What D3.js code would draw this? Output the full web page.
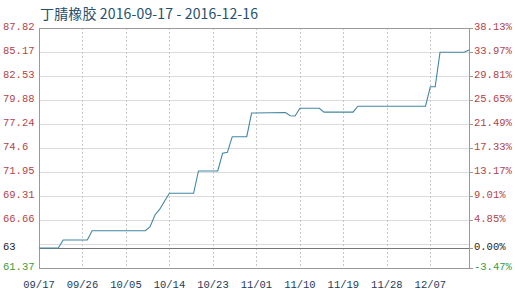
<!DOCTYPE html>
<html>
<head>
<meta charset="utf-8">
<script src="https://cdn.jsdelivr.net/npm/d3@7"></script>
<style>
  html, body { margin: 0; padding: 0; background: #fff; }
  svg { display: block; }
</style>
</head>
<body>
<svg id="chart" width="515" height="295"></svg>
<script>
// ---- data ----
const dates = ["2016-09-17","2016-09-21","2016-09-22","2016-09-27","2016-09-28","2016-10-09","2016-10-10","2016-10-11","2016-10-12","2016-10-13","2016-10-14","2016-10-19","2016-10-20","2016-10-24","2016-10-25","2016-10-26","2016-10-27","2016-10-30","2016-10-31","2016-11-07","2016-11-08","2016-11-09","2016-11-10","2016-11-14","2016-11-15","2016-11-21","2016-11-22","2016-12-06","2016-12-07","2016-12-08","2016-12-09","2016-12-14","2016-12-15"];
const prices = [63.58,63.58,64.46,64.46,65.48,65.48,65.92,67.21,67.85,68.75,69.6,69.6,72.06,72.06,74.01,74.12,75.84,75.84,78.45,78.5,78.15,78.12,78.97,78.97,78.55,78.55,79.2,79.2,81.35,81.35,85.14,85.14,85.4];

const baseValue = 63.58;
const baseLabel = "63";
const basePctLabel = "0.00%";
const yTicks = [61.37, 64.015, 66.66, 69.305, 71.95, 74.595, 77.24, 79.885, 82.53, 85.175, 87.82];
const yTickLabels = ["61.37", "", "66.66", "69.31", "71.95", "74.6", "77.24", "79.88", "82.53", "85.17", "87.82"];
const pctLabels = ["-3.47%", "", "4.85%", "9.01%", "13.17%", "17.33%", "21.49%", "25.65%", "29.81%", "33.97%", "38.13%"];
const xTickDates = ["2016-09-17","2016-09-26","2016-10-05","2016-10-14","2016-10-23","2016-11-01","2016-11-10","2016-11-19","2016-11-28","2016-12-07"];
const xTickLabels = ["09/17","09/26","10/05","10/14","10/23","11/01","11/10","11/19","11/28","12/07"];
const title = "丁腈橡胶 2016-09-17 - 2016-12-16";
const xStart = "2016-09-17", xEnd = "2016-12-15";

// ---- layout ----
const L = 39, R = 469, T = 28, B = 268;
const parse = d3.timeParse("%Y-%m-%d");
const svg = d3.select("#chart");

const x = d3.scaleTime().domain([parse(xStart), parse(xEnd)]).range([L, R]);
const y = d3.scaleLinear().domain([yTicks[0], yTicks[yTicks.length - 1]]).range([B, T]);

const mono = "'Liberation Mono', 'DejaVu Sans Mono', monospace";
const red = "#b0444a", green = "#3a9a3a", dark = "#222";

// title
svg.append("text")
  .attr("x", 40).attr("y", 19)
  .attr("font-family", "'Noto Sans CJK SC', sans-serif")
  .attr("font-size", 14)
  .attr("fill", "#24506e")
  .attr("textLength", 218)
  .text(title);

// horizontal grid
svg.append("g").selectAll("line")
  .data(yTicks.slice(1, -1))
  .join("line")
  .attr("x1", L).attr("x2", R)
  .attr("y1", d => Math.round(y(d)) + 0.5).attr("y2", d => Math.round(y(d)) + 0.5)
  .attr("stroke", "#dcdcdc").attr("stroke-width", 1);

// vertical dotted grid
svg.append("g").selectAll("line")
  .data(xTickDates.slice(1))
  .join("line")
  .attr("x1", d => Math.round(x(parse(d))) + 0.5).attr("x2", d => Math.round(x(parse(d))) + 0.5)
  .attr("y1", T).attr("y2", B)
  .attr("stroke", "#c8c8c8").attr("stroke-width", 1)
  .attr("stroke-dasharray", "2,2");

// base (0%) line
svg.append("line")
  .attr("x1", L).attr("x2", R)
  .attr("y1", Math.round(y(baseValue)) + 0.5).attr("y2", Math.round(y(baseValue)) + 0.5)
  .attr("stroke", "#777").attr("stroke-width", 1);

// frame
svg.append("rect")
  .attr("x", L + 0.5).attr("y", T + 0.5)
  .attr("width", R - L).attr("height", B - T)
  .attr("fill", "none").attr("stroke", "#9a9a9a").attr("stroke-width", 1);

// right ticks
svg.append("g").selectAll("line")
  .data(yTicks.filter((d, i) => pctLabels[i] !== "").concat([baseValue]))
  .join("line")
  .attr("x1", R + 0.5).attr("x2", R + 4)
  .attr("y1", d => Math.round(y(d)) + 0.5).attr("y2", d => Math.round(y(d)) + 0.5)
  .attr("stroke", "#9a9a9a");

// series line
const line = d3.line()
  .x((d, i) => x(parse(dates[i])))
  .y(d => y(d));
svg.append("path")
  .datum(prices)
  .attr("d", line)
  .attr("fill", "none")
  .attr("stroke", "#4286a3")
  .attr("stroke-width", 1.1);

// left labels
const leftG = svg.append("g").attr("font-family", mono).attr("font-size", 10.5);
yTicks.forEach((v, i) => {
  if (!yTickLabels[i]) return;
  leftG.append("text")
    .attr("x", 3).attr("y", y(v) - 1)
    .attr("dominant-baseline", "middle")
    .attr("fill", i === 0 ? green : red)
    .text(yTickLabels[i]);
});
leftG.append("text")
  .attr("x", 3).attr("y", y(baseValue) - 1)
  .attr("dominant-baseline", "middle")
  .attr("fill", dark)
  .text(baseLabel);

// right labels
const rightG = svg.append("g").attr("font-family", mono).attr("font-size", 10.5);
yTicks.forEach((v, i) => {
  if (!pctLabels[i]) return;
  rightG.append("text")
    .attr("x", 474).attr("y", y(v) - 1)
    .attr("dominant-baseline", "middle")
    .attr("fill", i === 0 ? green : red)
    .text(pctLabels[i]);
});
rightG.append("text")
  .attr("x", 474).attr("y", y(baseValue) - 1)
  .attr("dominant-baseline", "middle")
  .attr("fill", dark)
  .text(basePctLabel);

// x labels
svg.append("g").attr("font-family", mono).attr("font-size", 10.5)
  .selectAll("text")
  .data(xTickDates)
  .join("text")
  .attr("x", d => x(parse(d)))
  .attr("y", 288)
  .attr("text-anchor", "middle")
  .attr("fill", "#1e3a56")
  .text((d, i) => xTickLabels[i]);
</script>
</body>
</html>
